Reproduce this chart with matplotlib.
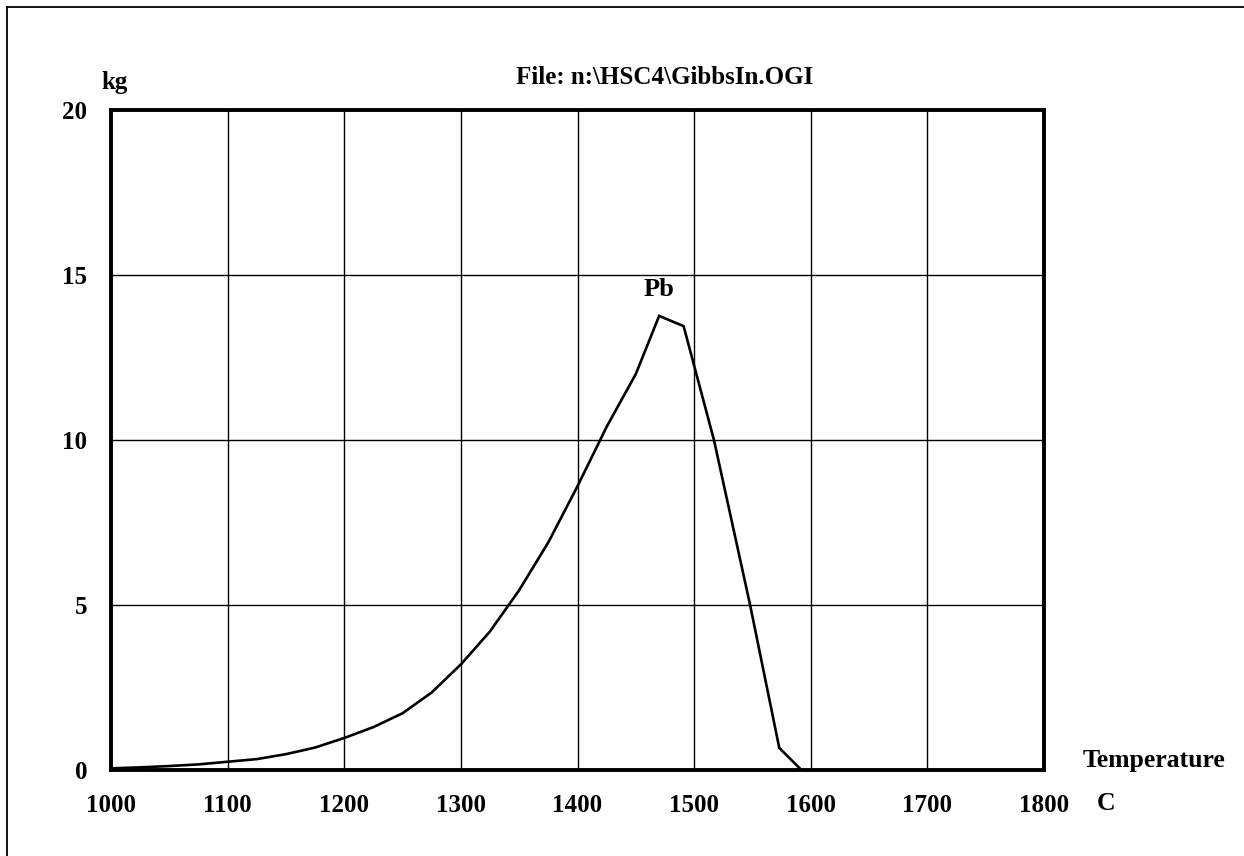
"""Pb amount vs temperature, HSC equilibrium plot (GibbsIn.OGI)."""
import matplotlib
matplotlib.use("Agg")
import matplotlib.pyplot as plt
from matplotlib.lines import Line2D

# values
temp = [1000, 1025, 1050, 1075, 1100, 1125, 1150, 1175, 1200, 1225, 1250,
        1275, 1300, 1325, 1350, 1375, 1400, 1425, 1450, 1470, 1491, 1517,
        1548, 1573, 1592]
pb_kg = [0.05, 0.08, 0.12, 0.17, 0.25, 0.33, 0.48, 0.68, 0.97, 1.3, 1.72,
         2.35, 3.2, 4.2, 5.45, 6.9, 8.6, 10.4, 12.0, 13.76, 13.45, 10.0,
         5.0, 0.67, 0.0]
x_ticks = [1000, 1100, 1200, 1300, 1400, 1500, 1600, 1700, 1800]
y_ticks = [0, 5, 10, 15, 20]

plt.rcParams["font.family"] = ["Liberation Serif", "DejaVu Serif"]
plt.rcParams["font.weight"] = "bold"

W, H = 1244, 856
fig = plt.figure(figsize=(W / 100, H / 100), dpi=100)
ax = fig.add_axes([111 / W, (H - 770) / H, 933 / W, 660 / H])

ax.plot(temp, pb_kg, color="black", lw=1.9, solid_joinstyle="miter")
ax.set_xlim(1000, 1800)
ax.set_ylim(0, 20)
ax.set_xticks(x_ticks)
ax.set_yticks(y_ticks)
ax.grid(True, color="black", lw=1.0)
ax.tick_params(length=0, labelsize=18)
ax.tick_params(axis="y", pad=17)
ax.tick_params(axis="x", pad=17)
for lab in ax.get_xticklabels() + ax.get_yticklabels():
    lab.set_fontweight("bold")
for s in ax.spines.values():
    s.set_linewidth(2.8)

ax.text(1470, 14.2, "Pb", ha="center", va="bottom", fontsize=19, fontweight="bold")

# labels placed in figure pixels like the original HSC output
fig.text(115 / W, 1 - 82 / H, "kg", ha="center", va="center", fontsize=18, fontweight="bold")
fig.text(665 / W, 1 - 77 / H, r"File: n:\HSC4\GibbsIn.OGI", ha="center", va="center",
         fontsize=18, fontweight="bold")
fig.text(1154 / W, 1 - 760 / H, "Temperature", ha="center", va="center", fontsize=18.5,
         fontweight="bold")
fig.text(1106 / W, 1 - 803 / H, "C", ha="center", va="center", fontsize=18.5, fontweight="bold")

# page frame: left and top edges only
fig.add_artist(Line2D([7 / W, 7 / W], [0, 1 - 7 / H], transform=fig.transFigure,
                      color="black", lw=1.3))
fig.add_artist(Line2D([7 / W, 1], [1 - 7 / H, 1 - 7 / H], transform=fig.transFigure,
                      color="black", lw=1.3))

fig.savefig("out.png", dpi=100)
plt.close(fig)
